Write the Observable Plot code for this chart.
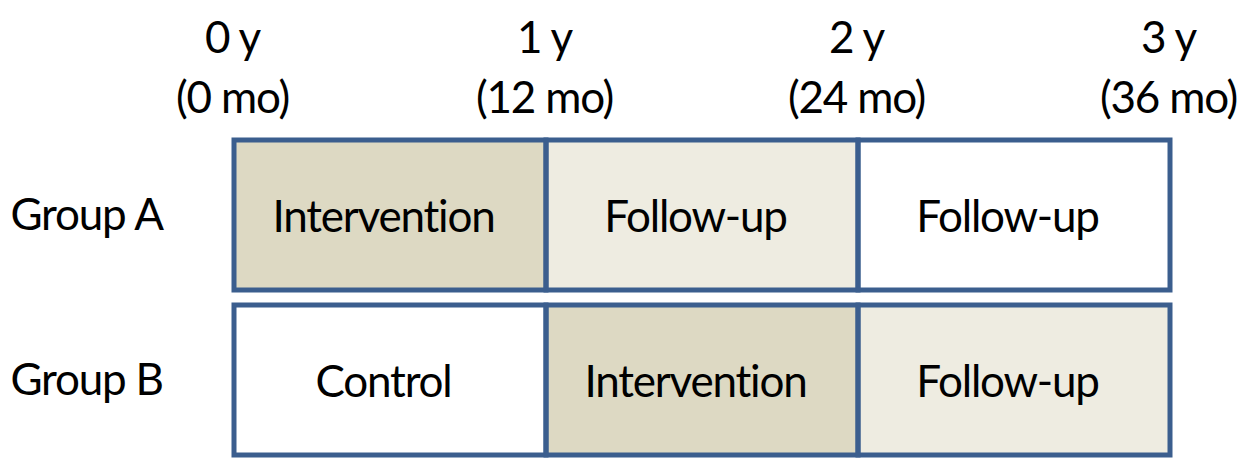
<!DOCTYPE html>
<html>
<head>
<meta charset="utf-8">
<script src="https://cdn.jsdelivr.net/npm/d3@7"></script>
<script src="https://cdn.jsdelivr.net/npm/@observablehq/plot@0.6"></script>
<style>
  html, body { margin: 0; padding: 0; background: #fff; }
  svg { display: block; }
  svg text { font-variant-ligatures: none; letter-spacing: -1.2px; }
</style>
</head>
<body>
<div id="chart"></div>
<script>
// ---- data ----
const groups = ["Group A", "Group B"];
const periodStart = [0, 1, 2];           // years
const periodEnd = [1, 2, 3];             // years
const phasesA = ["Intervention", "Follow-up", "Follow-up"];
const phasesB = ["Control", "Intervention", "Follow-up"];
const shadesA = ["intervention", "follow-up yr1", "follow-up yr2"];
const shadesB = ["control", "intervention", "follow-up yr1"];
const yearTicks = [0, 1, 2, 3];
const yearLabels = ["0 y", "1 y", "2 y", "3 y"];
const monthLabels = ["0 mo", "12 mo", "24 mo", "36 mo"];

const cells = [];
[[groups[0], phasesA, shadesA], [groups[1], phasesB, shadesB]].forEach(([g, ph, sh]) => {
  ph.forEach((p, i) => cells.push({group: g, phase: p, shade: sh[i], start: periodStart[i], end: periodEnd[i]}));
});

const FONT = "Lato, 'Liberation Sans', sans-serif";
const FS = 44;

const chart = Plot.plot({
  width: 1244,
  height: 459,
  marginLeft: 234,
  marginRight: 74,
  marginTop: 139,
  marginBottom: 3,
  style: {fontFamily: FONT, background: "#fff", color: "#000"},
  x: {domain: [0, 3], axis: null},
  y: {domain: groups, paddingInner: 0.09, paddingOuter: 0, axis: null},
  color: {
    domain: ["intervention", "follow-up yr1", "follow-up yr2", "control"],
    range: ["#DDD9C3", "#EEECE1", "#FFFFFF", "#FFFFFF"]
  },
  marks: [
    Plot.barX(cells, {x1: "start", x2: "end", y: "group", fill: "shade", inset: 0}),
    Plot.barX(cells, {x1: "start", x2: "end", y: "group", fill: "none", stroke: "#3B5E8E", strokeWidth: 5, inset: 0}),
    Plot.text(cells, {x: d => (d.start + d.end) / 2, y: "group", text: "phase", fontSize: FS, fill: "#000", dx: -7, dy: 2}),
    Plot.axisY({tickSize: 0, tickPadding: 224, textAnchor: "start", fontSize: FS, label: null, fill: "#000"}),
    Plot.axisX({anchor: "top", ticks: yearTicks, tickSize: 0, tickPadding: 27, fontSize: FS, label: null,
      lineHeight: 1.36, fill: "#000", dx: -2,
      tickFormat: d => `${yearLabels[yearTicks.indexOf(d)]}\n(${monthLabels[yearTicks.indexOf(d)]})`})
  ]
});
document.getElementById("chart").appendChild(chart);
</script>
</body>
</html>
